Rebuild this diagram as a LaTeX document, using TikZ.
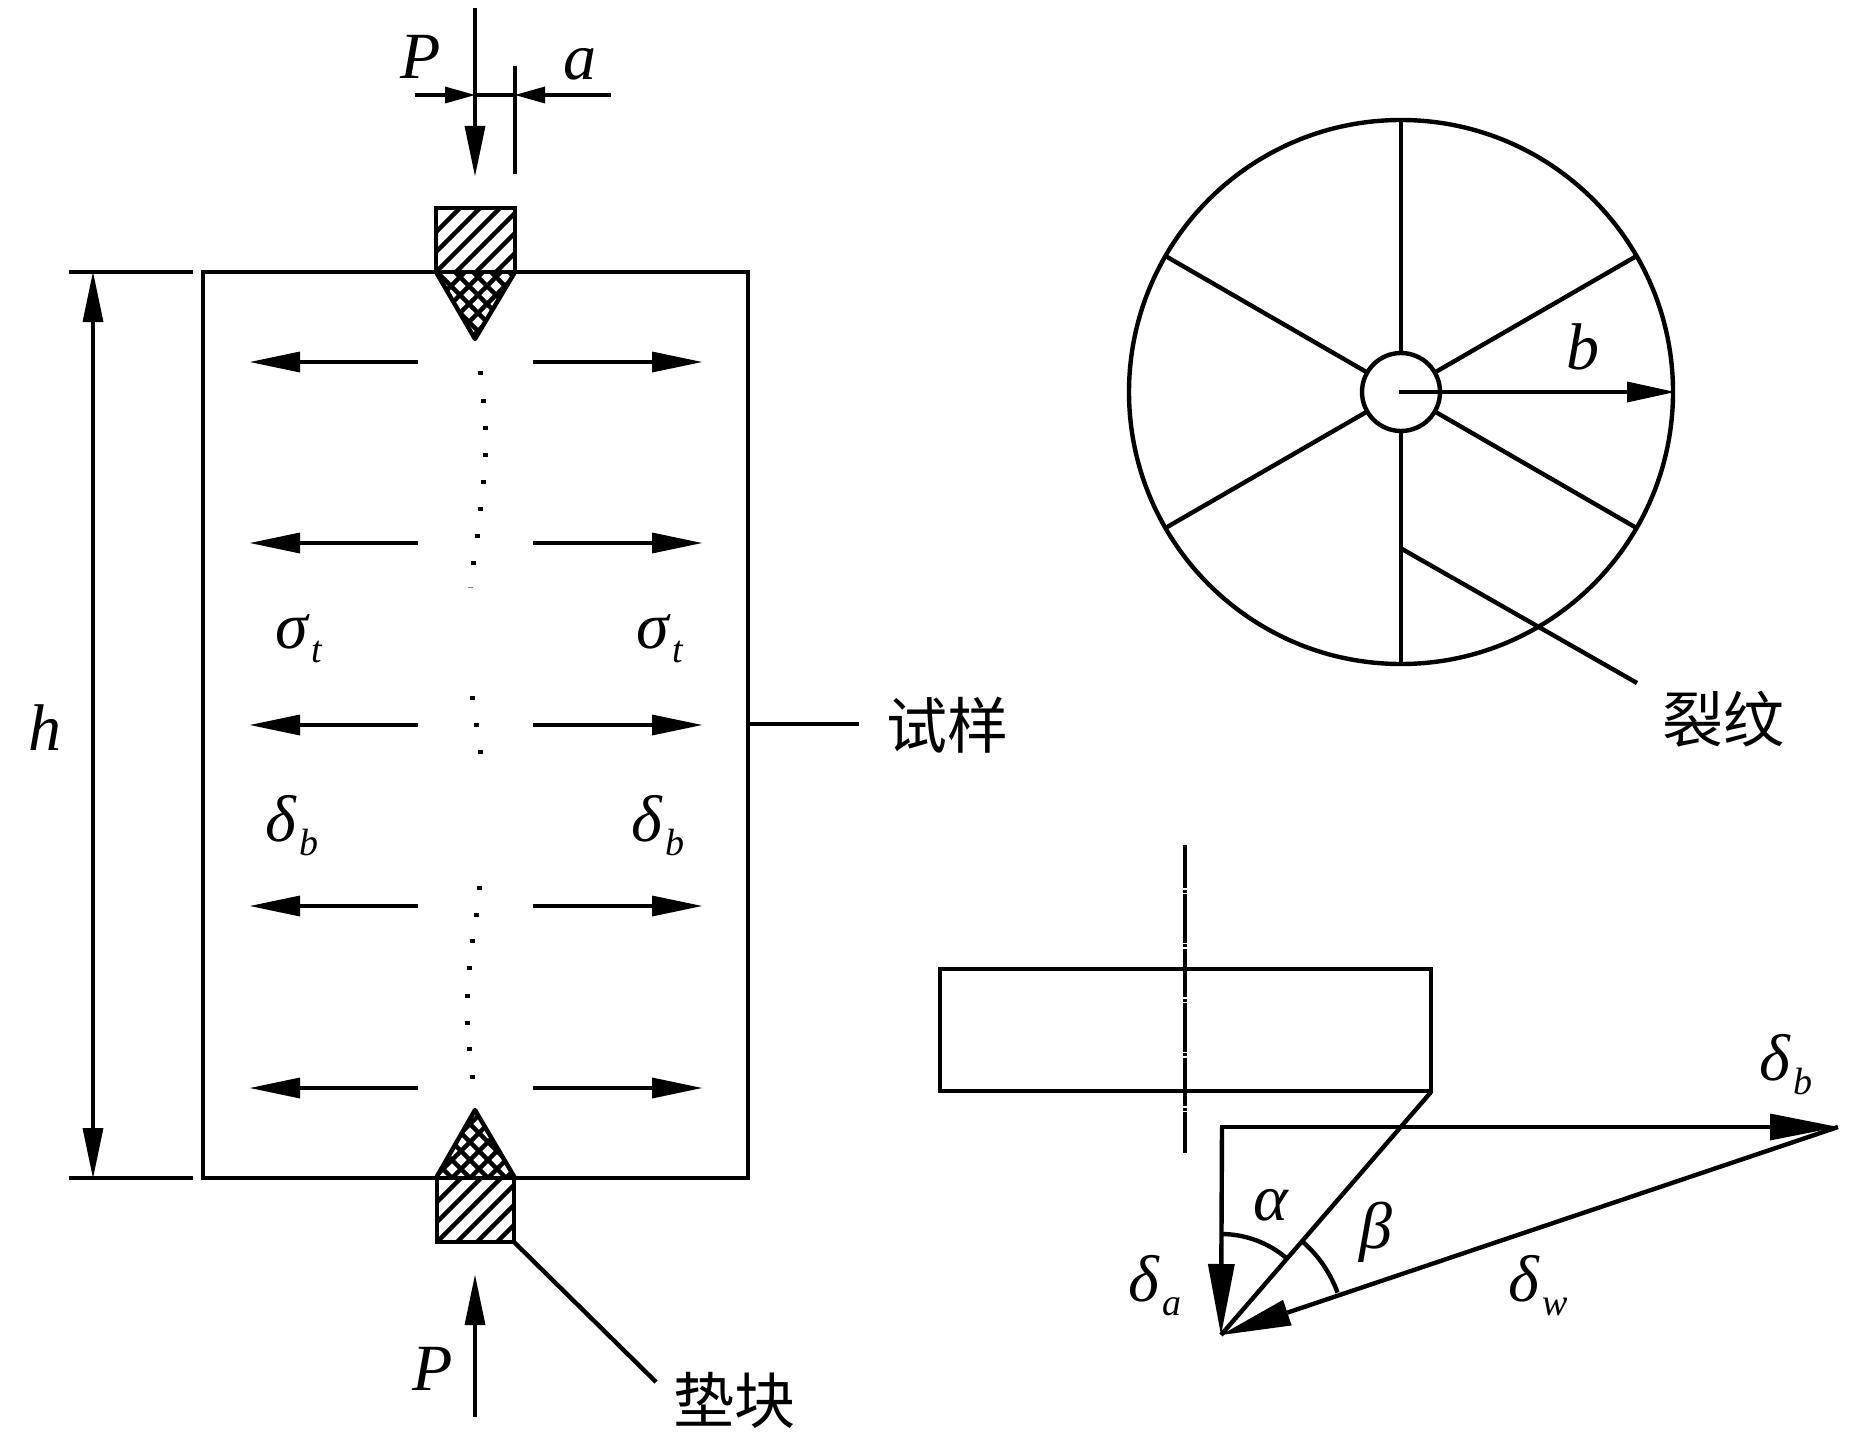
\documentclass[tikz,border=0pt]{standalone}
\usepackage{fontspec}
\setmainfont{Liberation Serif}
\newfontfamily\cjk{Noto Sans CJK SC}
\usetikzlibrary{arrows.meta}
\newcommand{\sbs}[1]{\kern 3pt\raisebox{-14pt}{\fontsize{38}{38}\selectfont\itshape #1}}
\tikzset{
  x=1pt,y=-1pt,
  main/.style={line width=4.4pt,line cap=butt,line join=miter,draw=black},
  hatchline/.style={line width=4.4pt,draw=black},
  arr/.style={main,-{Triangle[length=50pt,width=21pt,line width=0pt]}},
  bigarr/.style={main,-{Triangle[length=68pt,width=27pt,line width=0pt]}},
  lab/.style={inner sep=0pt,anchor=base,font=\fontsize{66}{66}\selectfont\itshape},
  cn/.style={inner sep=0pt,font=\fontsize{61}{61}\selectfont\cjk},
  dotm/.style={fill=black,inner sep=0pt,minimum width=5pt,minimum height=4pt,draw=none}
}
\begin{document}
\begin{tikzpicture}
\useasboundingbox (0,0) rectangle (1866,1434);
\fill[white] (0,0) rectangle (1866,1434);
% specimen
\draw[main] (203,272) rectangle (748,1178);
% top pad
\begin{scope}
\clip (436,208) rectangle (515,272);
\foreach \k in {-40,-20,...,120}{\draw[hatchline] (436+\k,272) -- (436+\k+90,182);}
\end{scope}
\draw[main] (436,272) -- (436,208) -- (515,208) -- (515,272);
\begin{scope}
\clip (436,272) -- (515,272) -- (475,341) -- cycle;
\foreach \k in {-40,-22,...,120}{\draw[hatchline] (436+\k,341) -- (436+\k+80,261);}
\foreach \k in {-100,-82,...,120}{\draw[hatchline] (436+\k,261) -- (436+\k+80,341);}
\end{scope}
\draw[main,line join=round] (436,272) -- (475,339) -- (515,272);
% bottom pad
\begin{scope}
\clip (437,1178) rectangle (514,1242);
\foreach \k in {-40,-20,...,120}{\draw[hatchline] (437+\k,1242) -- (437+\k+80,1162);}
\end{scope}
\draw[main] (437,1178) -- (437,1242) -- (514,1242) -- (514,1178);
\begin{scope}
\clip (436,1178) -- (515,1178) -- (475,1108) -- cycle;
\foreach \k in {-40,-22,...,120}{\draw[hatchline] (436+\k,1198) -- (436+\k+100,1098);}
\foreach \k in {-100,-82,...,120}{\draw[hatchline] (436+\k,1098) -- (436+\k+100,1198);}
\end{scope}
\draw[main,line join=round] (436,1178) -- (475,1110) -- (515,1178);
% load arrows
\coordinate (ptop) at (475,8);
\coordinate (ptip) at (475,176);
\draw[arr] (ptop) -- (ptip);
\coordinate (dl) at (415,95);
\coordinate (dp) at (475,95);
\coordinate (da) at (515,95);
\coordinate (dr) at (611,95);
\draw[main,-{Triangle[length=30pt,width=17pt,line width=0pt]}] (dl) -- (dp);
\draw[main,-{Triangle[length=30pt,width=17pt,line width=0pt]}] (dr) -- (da);
\draw[main] (dp) -- (da);
\draw[main] (515,66) -- (515,174);
\coordinate (pb1) at (475,1417);
\coordinate (pb2) at (475,1275);
\draw[arr] (pb1) -- (pb2);
% tension arrows
\foreach \y in {362,543,725,906,1088}{
  \draw[arr] (418,\y) -- (250,\y);
  \draw[arr] (533,\y) -- (702,\y);
}
% height dimension
\draw[main] (69,272) -- (193,272);
\draw[main] (69,1178) -- (193,1178);
\draw[main,{Triangle[length=50pt,width=21pt,line width=0pt]}-{Triangle[length=50pt,width=21pt,line width=0pt]}] (93,272) -- (93,1178);
% dots
\foreach \x/\y in {480/373,483/401,485/428,485/455,483/482,480/509,477/536,473/563,472/698,476/725,480/752,479/888,476/915,472/941,469/968,467/996,467/1023,469/1049,472/1077}{
  \node[dotm] at (\x,\y) {};
}
\fill[black!45] (468,586.5) rectangle (473,587.5);
% leaders
\coordinate (padc) at (514,1242);
\coordinate (pade) at (656,1382);
\draw[main] (padc) -- (pade);
\draw[main] (748,724) -- (859,724);
% wheel
\coordinate (c) at (1401,392);
\draw[main] (c) circle[radius=272];
\draw[main] (c) circle[radius=39];
\foreach \a in {30,90,150,210,270,330}{
  \draw[main] ([shift={(\a:39)}]c) -- ([shift={(\a:272)}]c);
}
\coordinate (b1) at (1399,392);
\coordinate (b2) at (1675,392);
\draw[main,-{Triangle[length=48pt,width=21pt,line width=0pt]}] (b1) -- (b2);
\draw[main] (1402,549) -- (1637,683);
% lower right
\draw[main] (940,969) rectangle (1431,1091);
\draw[line width=4pt,dash pattern=on 48.5pt off 1.5pt on 3pt off 1.5pt,dash phase=5.5pt] (1185,845) -- (1185,1153);
\coordinate (apex) at (1221,1335);
\coordinate (corner) at (1222,1127);
\coordinate (tipb) at (1838,1127);
\coordinate (rc) at (1431,1092);
\draw[main] (rc) -- (apex);
\draw[bigarr] (1220,1127) -- (tipb);
\draw[main,-{Triangle[length=71pt,width=27pt,line width=0pt]}] (corner) -- (apex);
\draw[main,-{Triangle[length=70pt,width=27pt,line width=0pt]}] (tipb) -- (apex);
\draw[line width=4.4pt] (apex) ++(-90:101) arc[start angle=-90,end angle=-50,radius=101];
\draw[line width=4.4pt] (apex) ++(-49:124) arc[start angle=-49,end angle=-20,radius=124];
% labels
\node[lab] (lP1) at (421,79) {P};
\node[lab] (la) at (580,80) {a};
\node[lab] (lP2) at (433,1390) {P};
\node[lab] (lh) at (45,750) {h};
\node[lab] (ls1) at (299,648) {σ\sbs{t}};
\node[lab] (ls2) at (660,648) {σ\sbs{t}};
\node[lab] (ld1) at (292,841) {δ\sbs{b}};
\node[lab] (ld2) at (658,841) {δ\sbs{b}};
\node[lab] (lb) at (1583,369) {b};
\node[lab] (lalpha) at (1271,1220) {α};
\node[lab] (lbeta) at (1376,1248) {β};
\node[lab] (lda) at (1155,1301) {δ\sbs{a}};
\node[lab] (ldw) at (1538,1301) {δ\sbs{w}};
\node[lab] (ldb) at (1786,1080) {δ\sbs{b}};
\node[cn] (t1) at (947,725) {试样};
\node[cn] (t2) at (1723,719) {裂纹};
\node[cn] (t3) at (734,1400) {垫块};
\end{tikzpicture}
\end{document}
